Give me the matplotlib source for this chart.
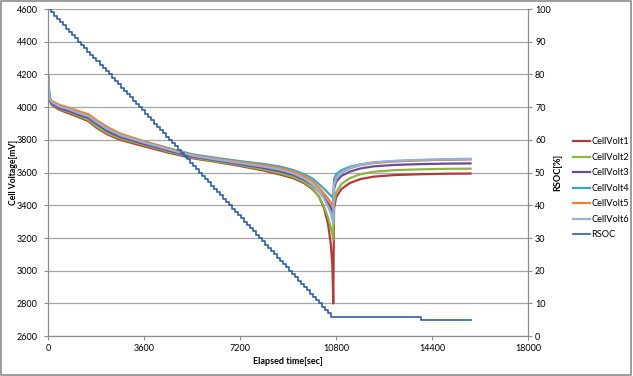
import matplotlib.pyplot as plt
from matplotlib.patches import Rectangle

plt.rcParams['font.family'] = ['Lato', 'DejaVu Sans']

# temps communs pour les tensions (sec)
t = [0, 40, 120, 400, 800, 1200, 1500, 1800, 2200, 2700, 3600, 4500, 5400, 6300,
     7200, 8100, 8700, 9200, 9600, 9900, 10150, 10350, 10500, 10600, 10660, 10690,
     10720, 10800, 11000, 11300, 11700, 12200, 13000, 14000, 15000, 15840]

cell1 = [4180, 4045, 4015, 3985, 3960, 3935, 3915, 3875, 3835, 3800, 3760, 3722, 3688, 3665,
         3640, 3612, 3588, 3565, 3535, 3500, 3455, 3380, 3280, 3160, 3020, 2800,
         3380, 3450, 3500, 3535, 3560, 3575, 3585, 3590, 3593, 3594]
cell2 = [4185, 4047, 4020, 3990, 3968, 3942, 3922, 3882, 3842, 3808, 3768, 3728, 3692, 3668,
         3645, 3618, 3596, 3572, 3542, 3505, 3455, 3390, 3320, 3265, 3220, 3190,
         3420, 3480, 3530, 3565, 3590, 3605, 3615, 3620, 3623, 3624]
cell3 = [4190, 4050, 4025, 3995, 3975, 3950, 3935, 3898, 3855, 3818, 3775, 3735, 3698, 3675,
         3652, 3628, 3608, 3585, 3556, 3525, 3485, 3448, 3412, 3385, 3362, 3350,
         3500, 3545, 3580, 3605, 3625, 3638, 3647, 3652, 3655, 3656]
cell4 = [4190, 4058, 4035, 4010, 3990, 3965, 3950, 3915, 3875, 3835, 3790, 3750, 3712, 3690,
         3670, 3652, 3637, 3615, 3590, 3565, 3530, 3500, 3475, 3460, 3448, 3440,
         3560, 3590, 3615, 3635, 3650, 3662, 3670, 3676, 3680, 3682]
cell5 = [4190, 4062, 4040, 4015, 3995, 3972, 3957, 3922, 3880, 3838, 3790, 3748, 3708, 3685,
         3664, 3645, 3628, 3605, 3578, 3548, 3508, 3470, 3440, 3415, 3395, 3380,
         3530, 3570, 3600, 3625, 3645, 3658, 3668, 3675, 3679, 3681]
cell6 = [4190, 4055, 4032, 4005, 3985, 3960, 3945, 3910, 3868, 3828, 3783, 3742, 3704, 3680,
         3658, 3636, 3618, 3594, 3564, 3530, 3485, 3440, 3390, 3350, 3310, 3290,
         3520, 3565, 3600, 3628, 3648, 3662, 3672, 3678, 3682, 3685]

# RSOC : instants de chaque palier (sec) et valeur (%)
rsoc_t = [0, 113, 226, 339, 452, 565, 678, 791, 904, 1017, 1130,
          1243, 1356, 1469, 1582, 1695, 1808, 1921, 2034, 2147, 2260,
          2373, 2486, 2599, 2712, 2825, 2938, 3051, 3164, 3277, 3390,
          3503, 3616, 3729, 3842, 3955, 4068, 4181, 4294, 4407, 4520,
          4633, 4746, 4859, 4972, 5085, 5198, 5311, 5424, 5537, 5650,
          5763, 5876, 5989, 6102, 6215, 6328, 6441, 6554, 6667, 6780,
          6893, 7006, 7119, 7232, 7345, 7458, 7571, 7684, 7797, 7910,
          8023, 8136, 8249, 8362, 8475, 8588, 8701, 8814, 8927, 9040,
          9153, 9266, 9379, 9492, 9605, 9718, 9831, 9944, 10057, 10170,
          10283, 10396, 10509, 10622, 13990, 15840]
rsoc = [100, 99, 98, 97, 96, 95, 94, 93, 92, 91, 90,
        89, 88, 87, 86, 85, 84, 83, 82, 81, 80,
        79, 78, 77, 76, 75, 74, 73, 72, 71, 70,
        69, 68, 67, 66, 65, 64, 63, 62, 61, 60,
        59, 58, 57, 56, 55, 54, 53, 52, 51, 50,
        49, 48, 47, 46, 45, 44, 43, 42, 41, 40,
        39, 38, 37, 36, 35, 34, 33, 32, 31, 30,
        29, 28, 27, 26, 25, 24, 23, 22, 21, 20,
        19, 18, 17, 16, 15, 14, 13, 12, 11, 10,
        9, 8, 7, 6, 5, 5]

x_ticks = [0, 3600, 7200, 10800, 14400, 18000]

fig = plt.figure(figsize=(6.33, 3.76), dpi=100)
ax = fig.add_axes([0.0763, 0.106, 0.758, 0.870])
ax2 = ax.twinx()

couleurs = ['#b33b37', '#8db543', '#6a4a9c', '#3fa6c2', '#f0822e', '#93b1dc']
noms = ['CellVolt1', 'CellVolt2', 'CellVolt3', 'CellVolt4', 'CellVolt5', 'CellVolt6']
lignes = []
for v, c, n in zip([cell1, cell2, cell3, cell4, cell5, cell6], couleurs, noms):
    l, = ax.plot(t, v, color=c, lw=1.6, label=n, zorder=3)
    lignes.append(l)

l, = ax2.plot(rsoc_t, rsoc, color='#2d5fa8', lw=1.2, drawstyle='steps-post', label='RSOC')
lignes.append(l)

ax.set_xlim(0, 18000)
ax.set_ylim(2600, 4600)
ax2.set_ylim(0, 100)
ax.set_xticks(x_ticks)
ax.set_yticks(range(2600, 4601, 200))
ax2.set_yticks(range(0, 101, 10))

ax.grid(axis='y', color='#a6a6a6', lw=0.9)
ax.set_axisbelow(True)
for a in (ax, ax2):
    a.spines['top'].set_visible(False)
    for s in ('left', 'right', 'bottom'):
        a.spines[s].set_color('#8c8c8c')
    a.tick_params(labelsize=6.5, colors='#8c8c8c', labelcolor='black', length=3, width=0.8)
ax.tick_params(axis='x', pad=3)
ax.tick_params(axis='y', pad=4.5)
ax2.tick_params(axis='y', pad=2)

ax.set_xlabel('Elapsed time[sec]', fontsize=6.5, fontweight='bold', va='center')
ax.xaxis.set_label_coords(0.5, -0.0765)
ax.set_ylabel('Cell Voltage[mV]', fontsize=6.2, fontweight='bold', va='center')
ax.yaxis.set_label_coords(-0.0725, 0.5)
ax2.set_ylabel('RSOC[%]', fontsize=6.5, fontweight='bold', rotation=90, va='center')
ax2.yaxis.set_label_coords(1.061, 0.5)

fig.legend(handles=lignes, loc='center left', bbox_to_anchor=(0.9, 0.499),
           frameon=False, fontsize=6.7, handlelength=1.8, labelspacing=0.7,
           handletextpad=0.1, borderaxespad=0)

# cadre du graphique
fig.patches.append(Rectangle((0.002, 0.003), 0.995, 0.994, transform=fig.transFigure,
                             fill=False, edgecolor='#8c8c8c', lw=1.2))

plt.savefig('out.png', dpi=100)
